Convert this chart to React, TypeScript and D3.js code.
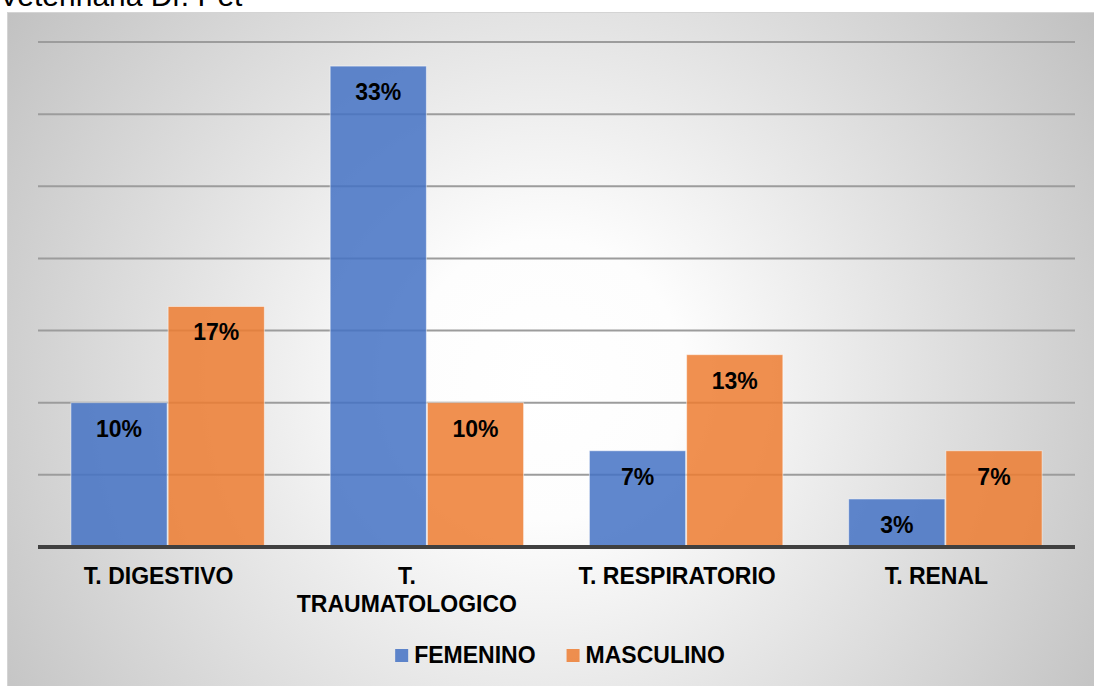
import React from "react";
import * as d3 from "d3";

const categories = ["T. DIGESTIVO", "T. TRAUMATOLOGICO", "T. RESPIRATORIO", "T. RENAL"];
const seriesNames = ["FEMENINO", "MASCULINO"];
const femenino = [10, 33.33, 6.67, 3.33];
const masculino = [16.67, 10, 13.33, 6.67];
const yTicks = [0, 5, 10, 15, 20, 25, 30, 35];
const title = "Veterinaria Dr. Pet";

const W = 1094;
const H = 686;
const FONT = "'Liberation Sans', Arial, Helvetica, sans-serif";
const colors = ["#4472C4", "#ED7D31"];

function measure(text: string, font: string): number {
  if (typeof document === "undefined") return text.length * 14;
  const c = document.createElement("canvas");
  const ctx = c.getContext("2d")!;
  ctx.font = font;
  return ctx.measureText(text).width;
}

function wrap(text: string, maxW: number, font: string): string[] {
  const words = text.split(" ");
  const lines: string[] = [];
  let cur = "";
  for (const w of words) {
    const trial = cur ? cur + " " + w : w;
    if (cur && measure(trial, font) > maxW) {
      lines.push(cur);
      cur = w;
    } else cur = trial;
  }
  if (cur) lines.push(cur);
  return lines;
}

export default function App() {
  const x0 = d3.scaleBand<string>().domain(categories).range([38, 1075]).paddingInner(0.25).paddingOuter(0.125);
  const x1 = d3.scaleBand<string>().domain(seriesNames).range([0, x0.bandwidth()]);
  const y = d3.scaleLinear().domain([0, 35]).range([547, 42]);
  const series = [femenino, masculino];
  const labelFont = `bold 23px ${FONT}`;

  // legend layout
  const sq = 13;
  const gapSq = 6;
  const gapItem = 31;
  const legW = seriesNames.map((s) => sq + gapSq + measure(s, labelFont));
  const legTotal = legW.reduce((a, b) => a + b, 0) + gapItem * (seriesNames.length - 1);
  let lx = 560 - legTotal / 2;
  const legendItems = seriesNames.map((s, i) => {
    const item = { name: s, x: lx, color: colors[i] };
    lx += legW[i] + gapItem;
    return item;
  });

  return (
    <svg width={W} height={H} style={{ position: "absolute", left: 0, top: 0, background: "#fff" }} fontFamily={FONT}>
      <defs>
        <radialGradient id="bg" gradientUnits="userSpaceOnUse" cx={545} cy={380} r={700}>
          <stop offset="0" stopColor="#ffffff" />
          <stop offset="0.2" stopColor="#fdfdfd" />
          <stop offset="1" stopColor="#bcbcbc" />
        </radialGradient>
      </defs>
      <text x={-1} y={6} fontSize={30} fill="#000">{title}</text>
      <rect x={7.5} y={12.5} width={1100} height={700} fill="url(#bg)" stroke="#d4d4d4" strokeWidth={1} />
      {yTicks.slice(1).map((t) => (
        <line key={t} x1={38} x2={1075} y1={y(t)} y2={y(t)} stroke="#9c9c9c" strokeWidth={2} />
      ))}
      {categories.map((c, ci) => (
        <g key={c} transform={`translate(${x0(c)},0)`}>
          {seriesNames.map((s, si) => {
            const v = series[si][ci];
            const bx = x1(s)!;
            const bw = x1.bandwidth();
            return (
              <g key={s}>
                <rect x={bx + 0.5} y={y(v)} width={bw - 1} height={y(0) - y(v)} fill={colors[si]} fillOpacity={0.85} stroke="#ffffff" strokeOpacity={0.5} strokeWidth={1} />
                <text x={bx + bw / 2} y={y(v) + 34} textAnchor="middle" fontSize={23} fontWeight="bold" fill="#000">
                  {Math.round(v)}%
                </text>
              </g>
            );
          })}
        </g>
      ))}
      <line x1={38} x2={1075} y1={y(0)} y2={y(0)} stroke="#404040" strokeWidth={4} />
      {categories.map((c) => {
        const lines = wrap(c, 230, labelFont);
        const cx = x0(c)! + x0.bandwidth() / 2 - (lines.length > 1 ? 20 : 9);
        return (
          <text key={c} x={cx} y={584} textAnchor="middle" fontSize={23} fontWeight="bold" fill="#000">
            {lines.map((l, i) => (
              <tspan key={i} x={cx} dy={i === 0 ? 0 : 28}>{l}</tspan>
            ))}
          </text>
        );
      })}
      {legendItems.map((it) => (
        <g key={it.name}>
          <rect x={it.x} y={649} width={sq} height={sq} fill={it.color} fillOpacity={0.85} />
          <text x={it.x + sq + gapSq} y={663} fontSize={23} fontWeight="bold" fill="#000">{it.name}</text>
        </g>
      ))}
    </svg>
  );
}
